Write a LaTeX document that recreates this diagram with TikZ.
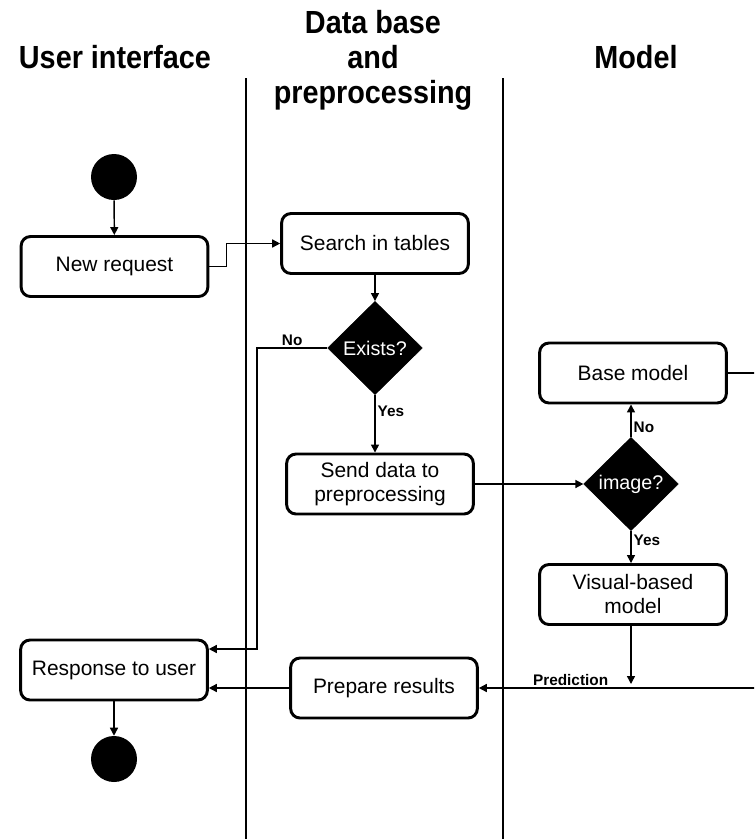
\documentclass[tikz,border=0pt]{standalone}
\usepackage{fontspec}
\setmainfont{Liberation Sans}
\newfontfamily\lanefont[FakeStretch=0.9]{Liberation Sans}
\usetikzlibrary{shapes.geometric,arrows.meta}
\begin{document}
\begin{tikzpicture}[x=0.75pt,y=-0.75pt,
  box/.style={draw, line width=2.2pt, rounded corners=7pt, minimum width=140pt,
    minimum height=45pt, align=center, inner sep=2pt,
    font=\fontsize{15.7}{18}\selectfont},
  decision/.style={diamond, fill=black, draw=black, minimum width=71pt,
    minimum height=70pt, inner sep=0pt, text=white,
    font=\fontsize{14.8}{17}\selectfont},
  dot/.style={circle, fill=black, minimum size=34.5pt, inner sep=0pt},
  flow/.style={line width=1.1pt, -{Triangle[length=6pt,width=6pt]}},
  lbl/.style={font=\bfseries\fontsize{11.5}{13}\selectfont, inner sep=1.5pt},
  lane/.style={line width=1.1pt},
  header/.style={font=\lanefont\bfseries\fontsize{24}{26.25}\selectfont, align=center}
]
\useasboundingbox (0,0) rectangle (754,839);
\clip (0,0) rectangle (754,839);

% swimlane titles
\node[header] (hui)    at (115,57)  {User interface};
\node[header] (hdata)  at (373,60)  {Data base\\and\\preprocessing};
\node[header] (hmodel) at (636,57)  {Model};

% swimlane separators
\coordinate (laneAtop) at (246,78);
\coordinate (laneAbot) at (246,839);
\coordinate (laneBtop) at (503,78);
\coordinate (laneBbot) at (503,839);
\draw[lane] (laneAtop) -- (laneAbot);
\draw[lane] (laneBtop) -- (laneBbot);

% activities
\node[dot] (start) at (114,177) {};
\node[box] (newreq) at (114.5,266.5) {New request};
\node[box] (search) at (375,243.5) {Search in tables};
\node[decision] (exists) at (375,348) {Exists?};
\node[box] (senddata) at (380,484) {Send data to\\preprocessing};
\node[decision] (image) at (631,484) {image?};
\node[box] (base) at (633,373) {Base model};
\node[box] (visual) at (633,594.5) {Visual-based\\model};
\node[box] (prepare) at (384,688) {Prepare results};
\node[box] (response) at (114,670) {Response to user};
\node[dot] (end) at (114,759) {};

% helper coordinates for routed connectors
\coordinate (noturn) at (257,0);
\coordinate (offright) at (775,0);

% flows
\draw[flow] (start) -- (newreq);
\draw[flow] (newreq.east) -- ++(17,0) |- (search.west);
\draw[flow] (search) -- (exists);
\draw[flow] (exists.west) -- node[lbl, above] {No} (exists.west -| noturn)
  |- ([yshift=15.75pt]response.east);
\draw[flow] (exists.south) -- node[lbl, right, pos=0.28] {Yes} (exists.south |- senddata.north);
\draw[flow] (senddata.east) -- (image.west);
\draw[flow] (image.north) -- node[lbl, right, pos=0.3] {No} (image.north |- base.south);
\draw[flow] (image.south) -- node[lbl, right, pos=0.3] {Yes} (image.south |- visual.north);
\draw[flow] (image.south |- visual.south) -- ([yshift=3pt]image.south |- prepare.east);
\draw[flow] (base.east) -- (base.east -| offright) -- (offright |- prepare.east)
  -- node[lbl, above, pos=0.69] {Prediction} (prepare.east);
\draw[flow] (prepare.west) -- (prepare.west -| response.east);
\draw[flow] (response) -- (end);
\end{tikzpicture}
\end{document}
